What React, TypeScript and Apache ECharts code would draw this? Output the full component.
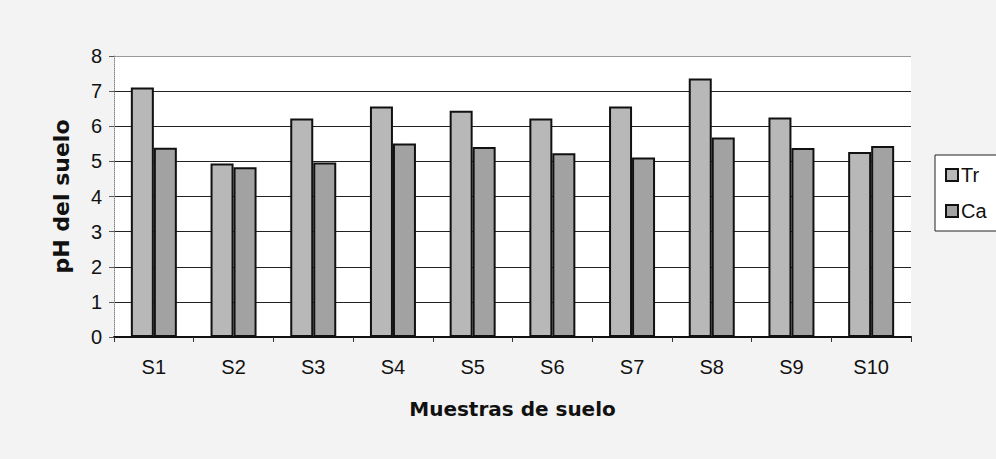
import React, { useEffect, useRef } from "react";
import * as echarts from "echarts";

const categories = ["S1", "S2", "S3", "S4", "S5", "S6", "S7", "S8", "S9", "S10"];
const trValues = [7.1, 4.94, 6.22, 6.56, 6.44, 6.22, 6.56, 7.36, 6.25, 5.27];
const caValues = [5.39, 4.83, 4.97, 5.51, 5.41, 5.23, 5.11, 5.68, 5.38, 5.44];
const yTicks = [0, 1, 2, 3, 4, 5, 6, 7, 8];

export default function App() {
  const ref = useRef<HTMLDivElement>(null);
  useEffect(() => {
    if (!ref.current) return;
    const chart = echarts.init(ref.current, undefined, { renderer: "svg" });
    const font = "Liberation Sans, Arial, sans-serif";
    chart.setOption({
      animation: false,
      backgroundColor: "#f3f3f3",
      textStyle: { fontFamily: font },
      grid: {
        left: 114,
        right: 85,
        top: 56,
        height: 281,
        show: true,
        backgroundColor: "#ffffff",
        borderWidth: 0,
      },
      legend: {
        orient: "vertical",
        left: 935,
        top: 155,
        icon: "rect",
        itemWidth: 12,
        itemHeight: 12,
        itemGap: 16,
        padding: [10, 60, 10, 10],
        backgroundColor: "#ffffff",
        borderColor: "#222",
        borderWidth: 1,
        textStyle: { fontSize: 20, color: "#111", fontFamily: font, padding: [0, 0, 0, -2] },
        data: ["Tr", "Ca"],
      },
      xAxis: {
        type: "category",
        data: categories,
        name: "Muestras de suelo",
        nameLocation: "middle",
        nameGap: 62,
        nameTextStyle: { fontSize: 20, fontWeight: "bold", color: "#111", fontFamily: "DejaVu Sans, sans-serif" },
        axisLine: { lineStyle: { color: "#111", width: 2 } },
        axisTick: { show: true, length: 5, lineStyle: { color: "#333" } },
        axisLabel: { fontSize: 20, color: "#111", margin: 20 },
      },
      yAxis: {
        type: "value",
        min: yTicks[0],
        max: yTicks[yTicks.length - 1],
        interval: 1,
        name: "pH del suelo",
        nameLocation: "middle",
        nameGap: 42,
        nameTextStyle: { fontSize: 22, fontWeight: "bold", color: "#111", fontFamily: "DejaVu Sans, sans-serif" },
        axisLine: { show: true, lineStyle: { color: "#888", width: 1, type: "dotted" } },
        axisTick: { show: true, length: 5, lineStyle: { color: "#555" } },
        axisLabel: { fontSize: 20, color: "#111", margin: 12 },
        splitLine: {
          show: true,
          lineStyle: {
            color: ["#222", "#222", "#222", "#222", "#222", "#222", "#222", "#222", "#999"],
            width: 1.2,
          },
        },
      },
      series: [
        {
          name: "Tr",
          type: "bar",
          data: trValues,
          barWidth: 23,
          barGap: "0%",
          itemStyle: { color: "#b8b8b8", borderColor: "#111", borderWidth: 2 },
        },
        {
          name: "Ca",
          type: "bar",
          data: caValues,
          barWidth: 23,
          barGap: "0%",
          itemStyle: { color: "#a2a2a2", borderColor: "#111", borderWidth: 2 },
        },
      ],
    });
    return () => chart.dispose();
  }, []);
  return <div ref={ref} style={{ width: 996, height: 459, position: "absolute", left: 0, top: 0 }} />;
}
